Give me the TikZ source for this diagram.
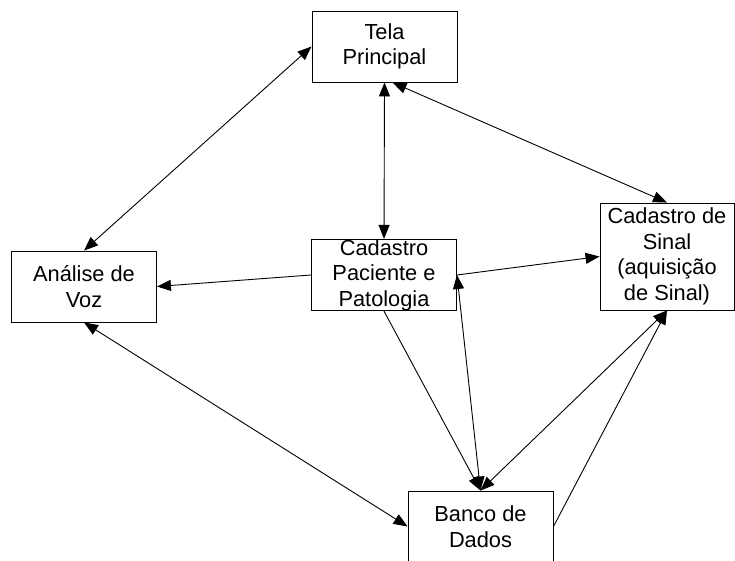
\documentclass[tikz,border=0pt]{standalone}
\usepackage{fontspec}
\setmainfont{Liberation Sans}
\usetikzlibrary{arrows.meta}
\begin{document}
\begin{tikzpicture}[x=1pt,y=-1pt,line width=0.9pt,
  every node/.style={font=\fontsize{21.8}{25.5}\selectfont,inner sep=0pt,align=center},
  tela/.style={draw,rectangle,minimum width=145pt,minimum height=71pt},
  seta/.style={-{Triangle[length=14pt,width=11pt]}},
  setas/.style={{Triangle[length=14pt,width=11pt]}-{Triangle[length=14pt,width=11pt]}}]
\useasboundingbox (0,0) rectangle (735,561);
\node[tela] (principal) at (384.5,46.5) {Tela\\Principal};
\node[tela] (analise) at (84,286.5) {Análise de\\Voz};
\node[tela] (paciente) at (384,275) {Cadastro\\Paciente e\\Patologia};
\node[tela,minimum width=134pt,minimum height=107pt] (sinal) at (667,256.5) {Cadastro de\\Sinal\\(aquisição\\de Sinal)};
\node[tela] (banco) at (480.5,526.5) {Banco de\\Dados};
\draw[setas] (principal.west) -- (analise.north);
\draw[setas] (principal.south) -- (paciente.north);
\draw[setas] ([xshift=8pt]principal.south) -- (sinal.north);
\draw[seta] (paciente.west) -- (analise.east);
\draw[seta] (paciente.east) -- (sinal.west);
\draw[seta] (paciente.south) -- (banco.north);
\draw[setas] (paciente.east) -- (banco.north);
\draw[setas] (sinal.south) -- (banco.north);
\draw[seta] (banco.east) -- (sinal.south);
\draw[setas] (analise.south) -- (banco.west);
\end{tikzpicture}
\end{document}
